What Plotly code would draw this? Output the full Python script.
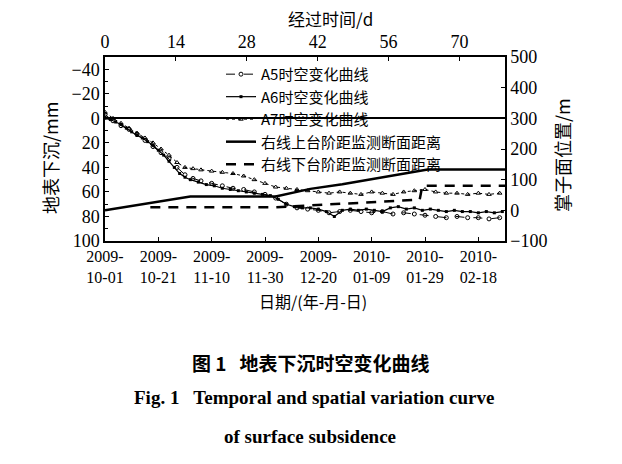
import pandas as pd
import plotly.graph_objects as go

# ---------------- data ----------------
start_date = "2009-10-01"
# A-series: day offsets from 2009-10-01 and surface subsidence (mm)
a6_days = [0, 2, 4, 6, 8, 10, 12, 14, 16, 18, 20, 22, 24, 26, 28, 30, 32, 35, 38, 41, 44, 47, 50, 53,
           56, 59, 62, 65, 68, 71, 74, 77, 80, 83, 86, 89, 92, 95, 98, 101, 104, 107, 110, 113, 116,
           119, 122, 125, 128, 131, 134, 137, 140, 143, 146, 149]
a6_vals = [0, 1, 3, 5, 8, 11, 14, 16, 19, 22, 26, 30, 35, 40, 45, 48, 50, 52, 54, 55, 57, 58, 59, 60,
           61, 62, 63, 66, 70, 72, 73, 73, 74, 76, 80, 75, 74, 75, 74, 75, 76, 73, 72, 74, 73,
           75, 74, 75, 76, 75, 76, 76, 77, 76, 77, 76]

a5_days = [0, 3, 6, 9, 12, 15, 18, 21, 24, 27, 30, 33, 36, 40, 44, 48, 52, 56, 60, 64, 68, 72, 76, 80,
           84, 88, 92, 96, 100, 104, 108, 112, 116, 120, 124, 128, 132, 136, 140, 144, 148]
a5_vals = [-3, 2, 6, 9, 13, 18, 23, 28, 33, 40, 46, 49, 51, 53, 55, 57, 58, 60, 62, 65, 70, 73, 74, 75,
           77, 76, 75, 76, 77, 76, 78, 77, 78, 79, 80, 81, 80, 81, 81, 82, 81]

a7_days = [0, 3, 6, 9, 12, 15, 18, 21, 24, 27, 30, 33, 36, 40, 44, 48, 52, 56, 60, 64, 68, 72, 76, 80,
           84, 88, 92, 96, 100, 104, 108, 112, 116, 120, 124, 128, 132, 136, 140, 144, 148]
a7_vals = [-5, 0, 4, 8, 12, 16, 20, 25, 30, 36, 40, 41, 42, 43, 44, 45, 47, 50, 53, 56, 57, 58, 59, 60,
           61, 60, 61, 62, 60, 61, 62, 60, 59, 58, 60, 61, 61, 62, 61, 62, 61]

# tunnel face distances (m), right axis
upper_days = [0, 32, 64, 77, 89, 102, 111, 121, 150]
upper_vals = [0, 45, 45, 70, 85, 105, 120, 133, 133]
lower_days = [17, 64, 90, 118, 119, 150]
lower_vals = [10, 10, 22, 35, 80, 80]

date_ticks = ["2009-10-01", "2009-10-21", "2009-11-10", "2009-11-30", "2009-12-20",
              "2010-01-09", "2010-01-29", "2010-02-18"]
date_ticktext = ["2009-<br>10-01", "2009-<br>10-21", "2009-<br>11-10", "2009-<br>11-30",
                 "2009-<br>12-20", "2010-<br>01-09", "2010-<br>01-29", "2010-<br>02-18"]
top_ticks = [0, 14, 28, 42, 56, 70]
left_ticks = [-40, -20, 0, 20, 40, 60, 80, 100]
right_ticks = [-100, 0, 100, 200, 300, 400, 500]

base = pd.Timestamp(start_date)
def to_dates(days):
    return [base + pd.Timedelta(days=d) for d in days]

SERIF = "Liberation Serif"
CJK = "Noto Sans CJK SC"

fig = go.Figure()
fig.add_trace(go.Scatter(x=to_dates(a5_days), y=a5_vals, name="A5时空变化曲线", mode="lines+markers",
                         line=dict(color="black", width=1, dash="dash"),
                         marker=dict(symbol="circle-open", size=4, color="black", line=dict(width=1))))
fig.add_trace(go.Scatter(x=to_dates(a6_days), y=a6_vals, name="A6时空变化曲线", mode="lines+markers",
                         line=dict(color="black", width=1.2),
                         marker=dict(symbol="square", size=3, color="black")))
fig.add_trace(go.Scatter(x=to_dates(a7_days), y=a7_vals, name="A7时空变化曲线", mode="lines+markers",
                         line=dict(color="black", width=1, dash="dot"),
                         marker=dict(symbol="triangle-up-open", size=4, color="black", line=dict(width=1))))
fig.add_trace(go.Scatter(x=to_dates(upper_days), y=upper_vals, name="右线上台阶距监测断面距离",
                         mode="lines", yaxis="y2", line=dict(color="black", width=2.5)))
fig.add_trace(go.Scatter(x=to_dates(lower_days), y=lower_vals, name="右线下台阶距监测断面距离",
                         mode="lines", yaxis="y2", line=dict(color="black", width=2.5, dash="10px,8px")))
# carrier for the top (elapsed days) axis
fig.add_trace(go.Scatter(x=[0, 79], y=[None, None], xaxis="x2", showlegend=False, hoverinfo="skip"))

tickfont = dict(family=SERIF, size=18, color="black")
fig.update_layout(
    width=622, height=464,
    margin=dict(l=105, r=117, t=57, b=223),
    paper_bgcolor="white", plot_bgcolor="white",
    showlegend=True,
    legend=dict(x=0.29, y=0.995, xanchor="left", yanchor="top", bgcolor="rgba(0,0,0,0)",
                font=dict(family=CJK, size=15, color="black"), tracegroupgap=0,
                itemwidth=30),
    xaxis=dict(type="date", range=[base, base + pd.Timedelta(days=150)],
               tickvals=to_dates([(pd.Timestamp(t) - base).days for t in date_ticks]),
               ticktext=date_ticktext, tickfont=dict(family=SERIF, size=16, color="black"),
               showline=True, linecolor="black", linewidth=1.5, ticks="inside", ticklen=4,
               tickcolor="black", showgrid=False, zeroline=False),
    xaxis2=dict(overlaying="x", side="top", range=[0, 79], tickvals=top_ticks, tickfont=tickfont,
                showline=True, linecolor="black", linewidth=1.5, ticks="inside", ticklen=4,
                tickcolor="black", showgrid=False, zeroline=False),
    yaxis=dict(range=[100, -50], tickvals=left_ticks, tickfont=tickfont,
               showline=True, linecolor="black", linewidth=1.5, ticks="inside", ticklen=4,
               tickcolor="black", showgrid=False, zeroline=True, zerolinecolor="black",
               zerolinewidth=1.5,
               minor=dict(dtick=10, ticks="inside", ticklen=3, tickcolor="black")),
    yaxis2=dict(overlaying="y", side="right", range=[-100, 500], tickvals=right_ticks,
                tickfont=tickfont, showline=True, linecolor="black", linewidth=1.5,
                ticks="inside", ticklen=4, tickcolor="black", showgrid=False, zeroline=False),
)

def ann(text, x, y, size=18, family=CJK, angle=0, bold=False):
    fig.add_annotation(text=text, x=x, y=y, xref="paper", yref="paper", showarrow=False,
                       textangle=angle, xanchor="center", yanchor="middle",
                       font=dict(family=family, size=size, color="black",
                                 weight="bold" if bold else "normal"))

ann("地表下沉/mm", -0.1375, 0.451, angle=-90)
ann("掌子面位置/m", 1.1425, 0.467, angle=-90)
ann("经过时间/d", 0.5625, 1.21, size=17)
ann("日期/(年-月-日)", 0.52, -0.325, size=16)
ann("图 1   地表下沉时空变化曲线", 0.5125, -0.658, size=19, bold=True)
ann("Fig. 1   Temporal and spatial variation curve", 0.5225, -0.853, size=19, family=SERIF, bold=True)
ann("of surface subsidence", 0.5125, -1.065, size=19, family=SERIF, bold=True)

fig.write_html("out.html")
